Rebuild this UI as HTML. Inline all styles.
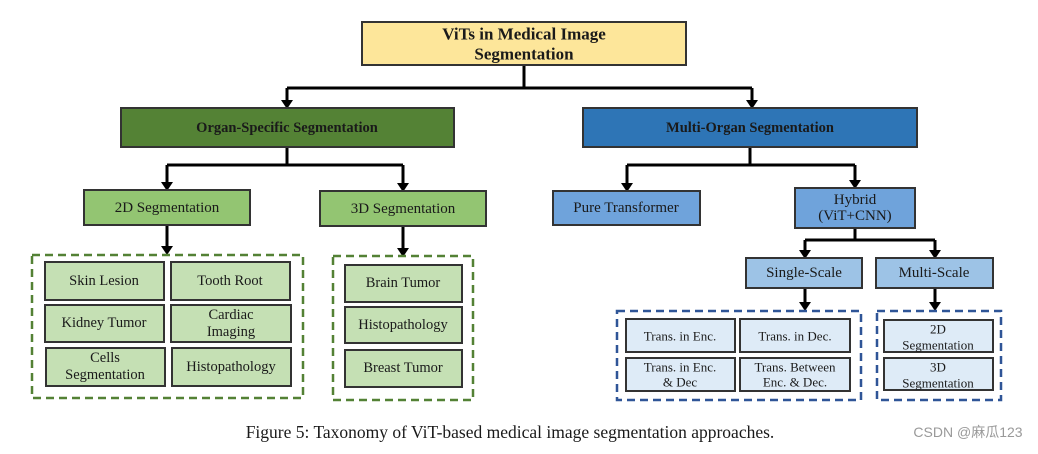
<!DOCTYPE html>
<html><head><meta charset="utf-8"><style>
body{margin:0;background:#fff;width:1038px;height:449px;overflow:hidden}
svg text{font-family:"Liberation Serif",serif;fill:#1a1a1a;text-anchor:middle;dominant-baseline:central}
</style></head><body>
<svg width="1038" height="449" xmlns="http://www.w3.org/2000/svg">
<defs><marker id="a" markerWidth="4" markerHeight="4" refX="2" refY="3.2" orient="auto-start-reverse" markerUnits="strokeWidth" viewBox="0 0 4 4"><path d="M0,0 L4,0 L2,3.5 z" fill="#000" transform="rotate(0)"/></marker></defs>
<g stroke="#000" stroke-width="3" fill="none">
<path d="M524,65 V88 M287,88 H752"/>
<path d="M287,88 V102 M752,88 V102"/>
<path d="M287,147 V165 M167,165 H403 M167,165 V184 M403,165 V185"/>
<path d="M167,225 V248 M403,226 V250"/>
<path d="M750,147 V165 M627,165 H855 M627,165 V185 M855,165 V182"/>
<path d="M855,228 V240 M805,240 H935 M805,240 V252 M935,240 V252"/>
<path d="M805,288 V304 M935,288 V304"/>
</g>
<g fill="#000">
<path d="M281,100 h12 l-6,9 z"/><path d="M746,100 h12 l-6,9 z"/>
<path d="M161,182 h12 l-6,9 z"/><path d="M397,183 h12 l-6,9 z"/>
<path d="M161,246 h12 l-6,9 z"/><path d="M397,248 h12 l-6,9 z"/>
<path d="M621,183 h12 l-6,9 z"/><path d="M849,180 h12 l-6,9 z"/>
<path d="M799,250 h12 l-6,9 z"/><path d="M929,250 h12 l-6,9 z"/>
<path d="M799,302 h12 l-6,9 z"/><path d="M929,302 h12 l-6,9 z"/>
</g>
<g stroke="#333" stroke-width="2">
<rect x="362" y="22" width="324" height="43" fill="#fde69a"/>
<rect x="121" y="108" width="333" height="39" fill="#548235"/>
<rect x="583" y="108" width="334" height="39" fill="#2e75b6"/>
<rect x="84" y="190" width="166" height="35" fill="#93c572"/>
<rect x="320" y="191" width="166" height="35" fill="#93c572"/>
<rect x="553" y="191" width="147" height="34" fill="#6fa3db"/>
<rect x="795" y="188" width="120" height="40" fill="#6fa3db"/>
<rect x="746" y="258" width="116" height="30" fill="#9dc3e6"/>
<rect x="876" y="258" width="117" height="30" fill="#9dc3e6"/>
</g>
<g stroke="#538135" stroke-width="2.5" stroke-dasharray="8,5" fill="none">
<rect x="32" y="255" width="271" height="143"/>
<rect x="333" y="256" width="140" height="144"/>
</g>
<g stroke="#2f5597" stroke-width="2.5" stroke-dasharray="8,5" fill="none">
<rect x="617" y="311" width="244" height="89"/>
<rect x="877" y="311" width="124" height="89"/>
</g>
<g stroke="#333" stroke-width="2" fill="#c5e0b4">
<rect x="45" y="262" width="119" height="38"/><rect x="171" y="262" width="119" height="38"/>
<rect x="45" y="305" width="119" height="37"/><rect x="171" y="305" width="120" height="37"/>
<rect x="46" y="348" width="119" height="38"/><rect x="172" y="348" width="119" height="38"/>
<rect x="345" y="265" width="117" height="37"/><rect x="345" y="307" width="117" height="36"/><rect x="345" y="350" width="117" height="37"/>
</g>
<g stroke="#333" stroke-width="2" fill="#deebf7">
<rect x="626" y="319" width="109" height="33"/><rect x="740" y="319" width="110" height="33"/>
<rect x="626" y="358" width="109" height="33"/><rect x="740" y="358" width="110" height="33"/>
<rect x="884" y="320" width="109" height="32"/><rect x="884" y="358" width="109" height="32"/>
</g>
<g font-weight="bold" font-size="17">
<text x="524" y="34">ViTs in Medical Image</text><text x="524" y="54">Segmentation</text>
</g>
<g font-weight="bold" font-size="14.5">
<text x="287" y="128">Organ-Specific Segmentation</text>
<text x="750" y="128">Multi-Organ Segmentation</text>
</g>
<g font-size="15">
<text x="167" y="208">2D Segmentation</text><text x="403" y="209">3D Segmentation</text>
<text x="626" y="208">Pure Transformer</text>
<text x="855" y="200">Hybrid</text><text x="855" y="216">(ViT+CNN)</text>
<text x="804" y="273">Single-Scale</text><text x="934" y="273">Multi-Scale</text>
</g>
<g font-size="14.5">
<text x="104" y="281">Skin Lesion</text><text x="230" y="281">Tooth Root</text>
<text x="104" y="323">Kidney Tumor</text><text x="231" y="315">Cardiac</text><text x="231" y="332">Imaging</text>
<text x="105" y="358">Cells</text><text x="105" y="375">Segmentation</text><text x="231" y="367">Histopathology</text>
<text x="403" y="283">Brain Tumor</text><text x="403" y="325">Histopathology</text><text x="403" y="368">Breast Tumor</text>
</g>
<g font-size="13">
<text x="680" y="336">Trans. in Enc.</text><text x="795" y="336">Trans. in Dec.</text>
<text x="680" y="367">Trans. in Enc.</text><text x="680" y="382">&amp; Dec</text>
<text x="795" y="367">Trans. Between</text><text x="795" y="382">Enc. &amp; Dec.</text>
<text x="938" y="329">2D</text><text x="938" y="345">Segmentation</text>
<text x="938" y="367">3D</text><text x="938" y="383">Segmentation</text>
</g>
<text x="510" y="432" font-size="17.5">Figure 5: Taxonomy of ViT-based medical image segmentation approaches.</text>
<text x="968" y="432" font-size="14" style="font-family:'Liberation Sans','Noto Sans CJK SC',sans-serif;fill:#999">CSDN @麻瓜123</text>
</svg>
</body></html>
